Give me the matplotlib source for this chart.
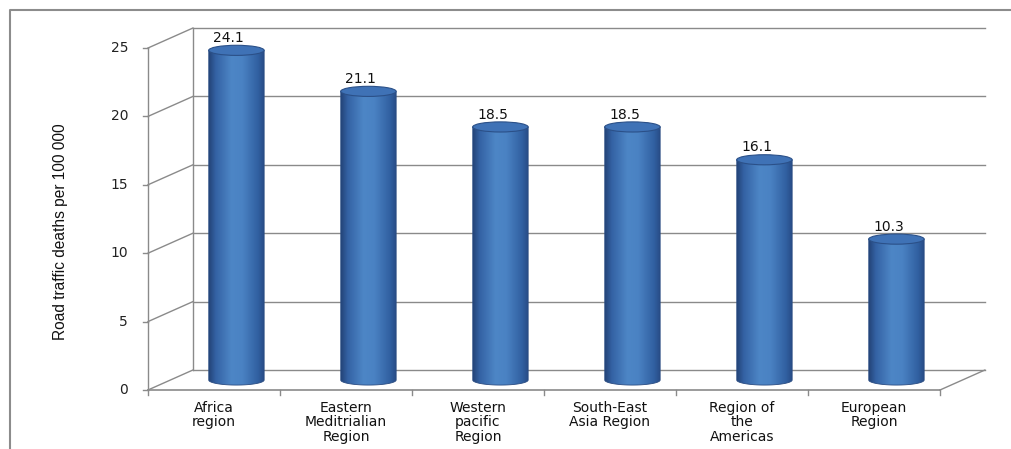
import numpy as np
import matplotlib
matplotlib.use("Agg")
import matplotlib.pyplot as plt
from matplotlib.patches import Ellipse, PathPatch
from matplotlib.path import Path
from matplotlib.colors import LinearSegmentedColormap

# data
categories = ["Africa\nregion", "Eastern\nMeditrialian\nRegion", "Western\npacific\nRegion",
              "South-East\nAsia Region", "Region of\nthe\nAmericas", "European\nRegion"]
values = [24.1, 21.1, 18.5, 18.5, 16.1, 10.3]
yticks = [0, 5, 10, 15, 20, 25]
ylabel = "Road traffic deaths per 100 000"

# 3d look: depth offset of the back wall in data units
DX, DY = 0.34, 1.46
BAR_W = 0.42
ELL_H = 0.74
GRID = "#8a8a8a"

fig = plt.figure(figsize=(10.11, 4.49), dpi=100)
ax = fig.add_axes([0, 0, 1, 1])
ax.set_xlim(-1.621, 6.038)
ax.set_ylim(-4.313, 28.51)
ax.axis("off")

n = len(categories)
x0, x1 = -0.5, n - 0.5

# outer frame (top and left only visible)
ax.plot([0.0095, 0.0095, 1.0], [0.0, 0.977, 0.977], transform=ax.transAxes,
        color="#8c8c8c", lw=1.5, clip_on=False)

# back wall grid + side wall diagonals
for v in yticks:
    ax.plot([x0 + DX, x1 + DX], [v + DY, v + DY], color=GRID, lw=1.0, zorder=1)
    ax.plot([x0, x0 + DX], [v, v + DY], color=GRID, lw=1.0, zorder=1)
    ax.plot([x0 - 0.04, x0], [v, v], color=GRID, lw=1.0, zorder=1)
    ax.text(x0 - 0.15, v, str(v), ha="right", va="center", fontsize=10,
            color="#222222", family="DejaVu Sans")
ax.plot([x0 + DX, x0 + DX], [DY, yticks[-1] + DY], color=GRID, lw=1.0, zorder=1)
ax.plot([x0, x0], [0, yticks[-1]], color=GRID, lw=1.0, zorder=1)

# floor
ax.plot([x0, x1], [0, 0], color=GRID, lw=1.2, zorder=1)
ax.plot([x1, x1 + DX], [0, DY], color=GRID, lw=1.0, zorder=1)
for i in range(n + 1):
    ax.plot([x0 + i, x0 + i], [0, -0.35], color=GRID, lw=1.0, zorder=1)

# category labels
for i, lab in enumerate(categories):
    ax.text(i, -0.8, lab, ha="center", va="top", fontsize=10, color="#111111",
            linespacing=1.05, family="DejaVu Sans")

ax.text(-1.166, 11.55, ylabel, rotation=90, ha="center", va="center",
        fontsize=11.2, color="#111111", family="Liberation Sans")

# cylinders
body_cmap = LinearSegmentedColormap.from_list(
    "cyl", [(0, "#24457a"), (0.12, "#3462a4"), (0.4, "#4d86c6"),
            (0.6, "#4a82c3"), (0.88, "#3160a1"), (1, "#274a84")])
grad = np.linspace(0, 1, 200).reshape(1, -1)
t = np.linspace(np.pi, 2 * np.pi, 60)

for i, v in enumerate(values):
    cx = i + DX / 2
    base = DY / 2
    top = v + DY / 2
    left, right = cx - BAR_W / 2, cx + BAR_W / 2
    verts = [(left, top)]
    verts += [(cx + BAR_W / 2 * np.cos(a), base + ELL_H / 2 * np.sin(a)) for a in t]
    verts += [(right, top), (left, top)]
    clip = Path(verts)
    patch = PathPatch(clip, facecolor="none", edgecolor="none")
    ax.add_patch(patch)
    im = ax.imshow(grad, cmap=body_cmap, aspect="auto", zorder=3,
                   extent=[left, right, base - ELL_H / 2, top], interpolation="bilinear")
    im.set_clip_path(patch)
    ax.add_patch(PathPatch(clip, facecolor="none", edgecolor="#2a4c82", lw=0.6, zorder=4))
    ax.add_patch(Ellipse((cx, top), BAR_W, ELL_H, facecolor="#3f72b6",
                         edgecolor="#2b5088", lw=0.8, zorder=5))
    ax.text(cx - 0.06, top + ELL_H / 2 + 0.02, f"{v}", ha="center", va="bottom",
            fontsize=10, color="#111111", family="DejaVu Sans", zorder=6)

fig.savefig("out.png", dpi=100)
